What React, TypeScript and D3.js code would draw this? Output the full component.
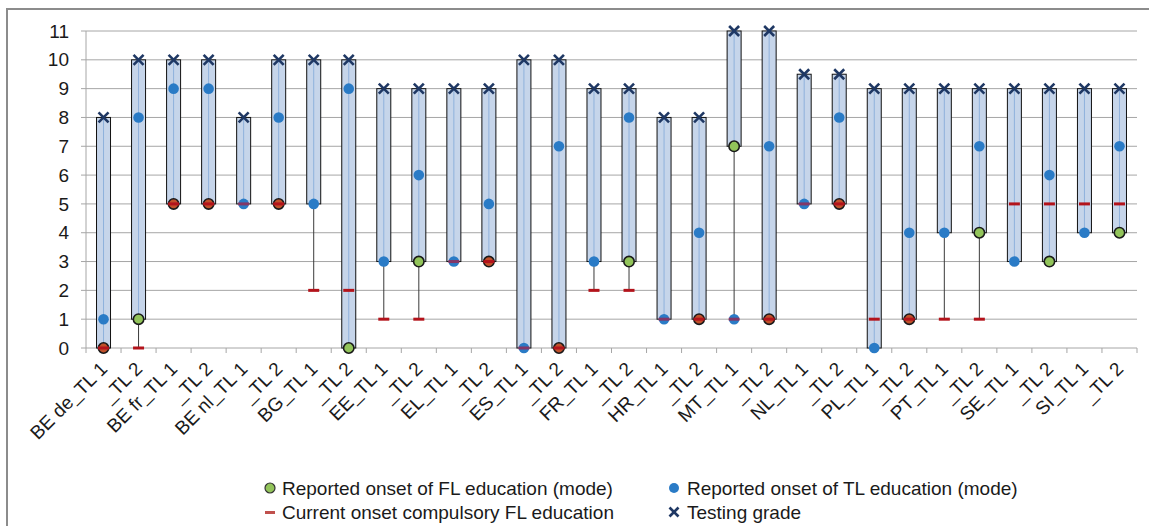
import React from "react";
import * as d3 from "d3";

const categories = ["BE de_TL 1","_TL 2","BE fr_TL 1","_TL 2","BE nl_TL 1","_TL 2","BG_TL 1","_TL 2","EE_TL 1","_TL 2","EL_TL 1","_TL 2","ES_TL 1","_TL 2","FR_TL 1","_TL 2","HR_TL 1","_TL 2","MT_TL 1","_TL 2","NL_TL 1","_TL 2","PL_TL 1","_TL 2","PT_TL 1","_TL 2","SE_TL 1","_TL 2","SI_TL 1","_TL 2"];
const testingGrade = [8,10,10,10,8,10,10,10,9,9,9,9,10,10,9,9,8,8,11,11,9.5,9.5,9,9,9,9,9,9,9,9];
const tlOnset = [1,8,9,9,5,8,5,9,3,6,3,5,0,7,3,8,1,4,1,7,5,8,0,4,4,7,3,6,4,7];
const flOnset: (number | null)[] = [0,1,5,5,null,5,null,0,null,3,null,3,null,0,null,3,null,1,7,1,null,5,null,1,null,4,null,3,null,4];
const compulsory = [0,0,5,5,5,5,2,2,1,1,3,3,0,0,2,2,1,1,1,1,5,5,1,1,1,1,5,5,5,5];
const yTicks = [0,1,2,3,4,5,6,7,8,9,10,11];
const legendItems = ["Reported onset of FL education (mode)", "Reported onset of TL education (mode)", "Current onset compulsory FL education", "Testing grade"];

const W = 1149, H = 526;
const left = 86, right = 1137, top = 31, bottom = 348;
const FONT = "'Liberation Sans', Arial, sans-serif";

export default function App() {
  const x = d3.scaleBand<number>().domain(categories.map((_, i) => i)).range([left, right]).padding(0);
  const y = d3.scaleLinear().domain([0, 11]).range([bottom, top]);
  const bw = 14;
  const cx = (i: number) => (x(i) as number) + x.bandwidth() / 2;
  const boundaries = d3.range(categories.length + 1).map(i => left + i * x.bandwidth());

  const Xmark = ({ px, py, s = 5 }: { px: number; py: number; s?: number }) => (
    <g stroke="#1f3864" strokeWidth={2.6} strokeLinecap="butt">
      <line x1={px - s} y1={py - s} x2={px + s} y2={py + s} />
      <line x1={px - s} y1={py + s} x2={px + s} y2={py - s} />
    </g>
  );

  return (
    <div style={{ position: "fixed", left: 0, top: 0, width: W, height: H, overflow: "hidden" }}>
      <svg width={W} height={H} style={{ display: "block", fontFamily: FONT }}>
        <rect x={0} y={0} width={W} height={H} fill="#fff" />
        <rect x={7} y={9} width={1150} height={530} fill="none" stroke="#8c8c8c" strokeWidth={2} />
        {/* gridlines */}
        {yTicks.map(t => (
          <g key={"g" + t}>
            <line x1={left - 5} x2={right} y1={y(t)} y2={y(t)} stroke="#a6a6a6" strokeWidth={1} />
            <text x={69} y={y(t)} dy="0.35em" textAnchor="end" fontSize={19} fill="#1a1a1a">{t}</text>
          </g>
        ))}
        <line x1={left} x2={left} y1={top} y2={bottom} stroke="#a6a6a6" />
        {boundaries.map((b, i) => (
          <line key={"t" + i} x1={b} x2={b} y1={bottom} y2={bottom + 5} stroke="#a6a6a6" />
        ))}
        {/* x labels */}
        {categories.map((c, i) => (
          <text key={"l" + i} transform={`translate(${cx(i) + 5},${bottom + 22}) rotate(-45)`} textAnchor="end" fontSize={19} fill="#1a1a1a">{c}</text>
        ))}
        {/* connector lines */}
        {categories.map((_, i) => {
          const low = flOnset[i] ?? tlOnset[i];
          const lb = Math.min(compulsory[i], tlOnset[i]);
          return lb < low ? (
            <line key={"c" + i} x1={cx(i)} x2={cx(i)} y1={y(lb)} y2={y(low)} stroke="#3a3a3a" strokeWidth={1} />
          ) : null;
        })}
        {/* boxes */}
        {categories.map((_, i) => {
          const low = flOnset[i] ?? tlOnset[i];
          return (
            <g key={"b" + i}>
              <rect x={cx(i) - bw / 2} y={y(testingGrade[i])} width={bw} height={y(low) - y(testingGrade[i])} fill="#c6d5ea" stroke="#111" strokeWidth={1} />
              <line x1={cx(i)} x2={cx(i)} y1={y(testingGrade[i])} y2={y(low)} stroke="#8fb1dc" strokeWidth={1} />
            </g>
          );
        })}
        {/* TL onset */}
        {categories.map((_, i) => (
          <circle key={"tl" + i} cx={cx(i)} cy={y(tlOnset[i])} r={5.3} fill="#2a7bc6" />
        ))}
        {/* FL onset */}
        {categories.map((_, i) => {
          const f = flOnset[i];
          if (f == null) return null;
          const same = f === compulsory[i];
          return <circle key={"fl" + i} cx={cx(i)} cy={y(f)} r={5.2} fill={same ? "#c0502a" : "#92c45a"} stroke="#1a1a1a" strokeWidth={1.6} />;
        })}
        {/* compulsory */}
        {categories.map((_, i) => {
          const onTl = compulsory[i] === tlOnset[i] && flOnset[i] !== compulsory[i];
          return <rect key={"cp" + i} x={cx(i) - 5.5} y={y(compulsory[i]) - 1.5} width={11} height={3} fill={onTl ? "#a02048" : "#b3131b"} opacity={onTl ? 0.75 : 1} />;
        })}
        {/* testing grade */}
        {categories.map((_, i) => (
          <Xmark key={"x" + i} px={cx(i)} py={y(testingGrade[i])} />
        ))}
        {/* legend */}
        <g fontSize={19} fill="#1a1a1a">
          <circle cx={270} cy={488} r={5} fill="#92c45a" stroke="#333" strokeWidth={1.2} />
          <text x={282} y={495}>{legendItems[0]}</text>
          <circle cx={674} cy={488} r={5} fill="#2a7bc6" />
          <text x={687} y={495}>{legendItems[1]}</text>
          <rect x={265} y={511} width={10} height={3} fill="#c0504d" />
          <text x={282} y={519}>{legendItems[2]}</text>
          <Xmark px={674} py={512} s={4.5} />
          <text x={687} y={519}>{legendItems[3]}</text>
        </g>
      </svg>
    </div>
  );
}
